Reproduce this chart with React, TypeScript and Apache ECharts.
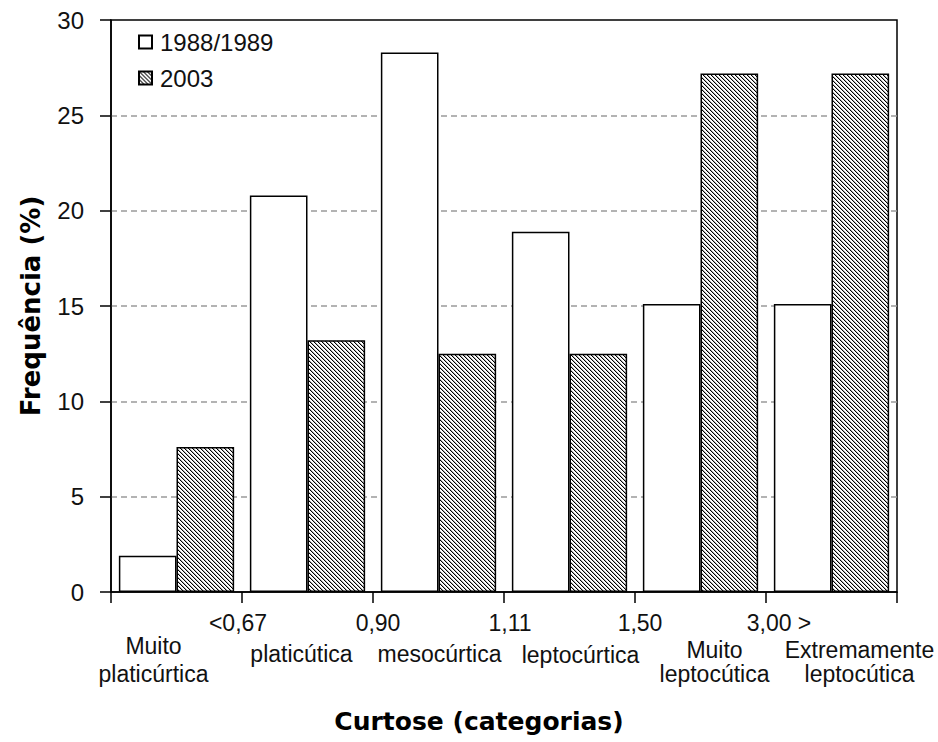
import React, { useEffect, useRef } from 'react';
import * as echarts from 'echarts';

// ---- data ----
const categories = [
  'Muito\nplaticúrtica',
  'platicútica',
  'mesocúrtica',
  'leptocúrtica',
  'Muito\nleptocútica',
  'Extremamente\nleptocútica',
];
const boundaryLabels = ['<0,67', '0,90', '1,11', '1,50', '3,00 >'];
const seriesNames = ['1988/1989', '2003'];
const values1988 = [1.9, 20.8, 28.3, 18.9, 15.1, 15.1];
const values2003 = [7.6, 13.2, 12.5, 12.5, 27.2, 27.2];
const yMin = 0;
const yMax = 30;
const yStep = 5;

// ---- styling (label nudges, in px) ----
const catDx = [-23, -6, 1, 11, 14, 28];
const catDy = [0, 15.5, 16.5, 17.5, 8.5, 8.5];
const boundDx = [-4, 5, 6, 5, 13];

const FONT = '"Liberation Sans", Arial, sans-serif';
const BOLD_FONT = '"DejaVu Sans", "Liberation Sans", Arial, sans-serif';
const TXT = '#111';
const FS = 23;

function makeHatch(): HTMLCanvasElement {
  const c = document.createElement('canvas');
  c.width = 4;
  c.height = 4;
  const ctx = c.getContext('2d')!;
  ctx.fillStyle = '#fff';
  ctx.fillRect(0, 0, 4, 4);
  for (let i = 0; i < 4; i++) {
    ctx.fillStyle = '#000';
    ctx.fillRect(i, i, 1, 1);
    ctx.fillStyle = '#b0b0b0';
    ctx.fillRect((i + 1) % 4, i, 1, 1);
  }
  return c;
}

export default function App() {
  const ref = useRef<HTMLDivElement>(null);

  useEffect(() => {
    document.body.style.margin = '0';
    if (!ref.current) return;
    const chart = echarts.init(ref.current, undefined, { renderer: 'svg' });
    const hatch = makeHatch();

    const catRich: Record<string, any> = {};
    categories.forEach((_, i) => {
      const dx = catDx[i];
      const pl = dx > 0 ? 2 * dx : 0;
      const pr = dx < 0 ? -2 * dx : 0;
      catRich['f' + i] = { fontFamily: FONT, fontSize: FS, color: TXT, lineHeight: 28, padding: [catDy[i], pr, 0, pl] };
      catRich['n' + i] = { fontFamily: FONT, fontSize: FS, color: TXT, lineHeight: 28, padding: [0, pr, 0, pl] };
    });
    const boundRich: Record<string, any> = {};
    boundaryLabels.forEach((_, i) => {
      const dx = boundDx[i];
      const pl = dx > 0 ? 2 * dx : 0;
      const pr = dx < 0 ? -2 * dx : 0;
      boundRich['b' + i] = { fontFamily: FONT, fontSize: FS, color: TXT, lineHeight: 18, padding: [0, pr, 0, pl] };
    });

    const option: any = {
      animation: false,
      backgroundColor: '#fff',
      grid: {
        left: 111,
        right: 41,
        top: 20,
        bottom: 150,
        show: true,
        borderColor: '#000',
        borderWidth: 1.5,
        backgroundColor: 'transparent',
      },
      legend: {
        orient: 'vertical',
        left: 138,
        top: 30,
        padding: 0,
        itemWidth: 13,
        itemHeight: 13,
        itemGap: 12,
        icon: 'rect',
        selectedMode: false,
        data: seriesNames,
        textStyle: { fontFamily: FONT, fontSize: 24, color: TXT, padding: [0, 0, 0, 3] },
      },
      xAxis: [
        {
          type: 'category',
          data: categories,
          boundaryGap: true,
          position: 'bottom',
          axisLine: { show: true, lineStyle: { color: '#000', width: 1.5 } },
          axisTick: { show: true, length: 11, lineStyle: { color: '#000', width: 1.5 } },
          axisLabel: {
            interval: 0,
            hideOverlap: false,
            margin: 40,
            verticalAlign: 'top',
            formatter: (v: string, i: number) =>
              v
                .split('\n')
                .map((line, k) => `{${k === 0 ? 'f' : 'n'}${i}|${line}}`)
                .join('\n'),
            rich: catRich,
          },
          splitLine: { show: false },
          name: 'Curtose (categorias)',
          nameLocation: 'middle',
          nameGap: 117,
          nameTextStyle: {
            fontFamily: BOLD_FONT,
            fontWeight: 'bold',
            fontSize: 25,
            color: '#000',
            padding: [0, 50, 0, 0],
          },
        },
        {
          type: 'value',
          min: 0,
          max: categories.length,
          interval: 1,
          position: 'bottom',
          axisLine: { show: false },
          axisTick: { show: false },
          splitLine: { show: false },
          axisLabel: {
            margin: 31,
            verticalAlign: 'middle',
            hideOverlap: false,
            formatter: (v: number) => {
              const i = Math.round(v) - 1;
              if (i < 0 || i >= boundaryLabels.length) return '';
              return `{b${i}|${boundaryLabels[i]}}`;
            },
            rich: boundRich,
          },
        },
      ],
      yAxis: {
        type: 'value',
        min: yMin,
        max: yMax,
        interval: yStep,
        axisLine: { show: true, lineStyle: { color: '#000', width: 1.5 } },
        axisTick: { show: true, length: 11, lineStyle: { color: '#000', width: 1.5 } },
        axisLabel: { margin: 27, fontFamily: FONT, fontSize: 24, color: TXT },
        splitLine: {
          show: true,
          showMinLine: false,
          showMaxLine: false,
          lineStyle: { color: '#9a9a9a', type: [6, 4], width: 1.5 },
        },
        name: 'Frequência (%)',
        nameLocation: 'middle',
        nameGap: 67,
        nameTextStyle: { fontFamily: BOLD_FONT, fontWeight: 'bold', fontSize: 26, color: '#000' },
      },
      series: [
        {
          name: seriesNames[0],
          type: 'bar',
          xAxisIndex: 0,
          data: values1988,
          barGap: '0%',
          barCategoryGap: '12%',
          silent: true,
          itemStyle: { color: '#fff', borderColor: '#000', borderWidth: 1.5 },
        },
        {
          name: seriesNames[1],
          type: 'bar',
          xAxisIndex: 0,
          data: values2003,
          barGap: '0%',
          barCategoryGap: '12%',
          silent: true,
          itemStyle: {
            color: { image: hatch, repeat: 'repeat', imageWidth: 4, imageHeight: 4 },
            borderColor: '#000',
            borderWidth: 1.5,
          },
        },
      ],
    };
    chart.setOption(option);
    return () => chart.dispose();
  }, []);

  return <div ref={ref} style={{ width: 938, height: 742 }} />;
}
